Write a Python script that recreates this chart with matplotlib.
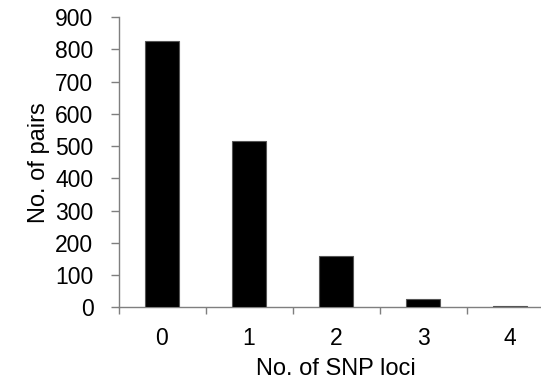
import matplotlib
matplotlib.use("Agg")
import matplotlib.pyplot as plt
import numpy as np

categories = ["0", "1", "2", "3", "4"]
pairs = [826, 516, 159, 26, 4]
yticks = [0, 100, 200, 300, 400, 500, 600, 700, 800, 900]

plt.rcParams['font.family'] = ['Liberation Sans', 'DejaVu Sans']
W, H = 541, 379
fig = plt.figure(figsize=(W/100, H/100), dpi=100)
left, right = 118.5, 553.5
bottom, top = 307.3, 17.2
ax = fig.add_axes([left/W, 1 - bottom/H, (right-left)/W, (bottom-top)/H])

x = np.arange(len(categories))
ax.bar(x, pairs, width=0.39, color='black', edgecolor='#555555', linewidth=0.8, zorder=3)
ax.set_xlim(-0.5, len(categories) - 0.5)
ax.set_ylim(0, 900)
ax.set_yticks(yticks)
ax.set_yticklabels([str(v) for v in yticks], fontsize=16.5)
ax.set_xticks(x)
ax.set_xticklabels(categories, fontsize=16.5)
ax.set_xticks(np.arange(-0.5, len(categories), 1.0), minor=True)

gray = '#7f7f7f'
for s in ['top', 'right']:
    ax.spines[s].set_visible(False)
for s in ['left', 'bottom']:
    ax.spines[s].set_color(gray)
    ax.spines[s].set_linewidth(1.0)
ax.tick_params(axis='y', direction='out', length=6, width=1.0, color=gray, pad=12)
ax.tick_params(axis='x', which='major', length=0, pad=14)
ax.tick_params(axis='x', which='minor', direction='out', length=5, width=1.0, color=gray)

ax.set_xlabel("No. of SNP loci", fontsize=17, labelpad=6)
ax.set_ylabel("No. of pairs", fontsize=17, labelpad=4)

fig.savefig("out.png", dpi=100)
